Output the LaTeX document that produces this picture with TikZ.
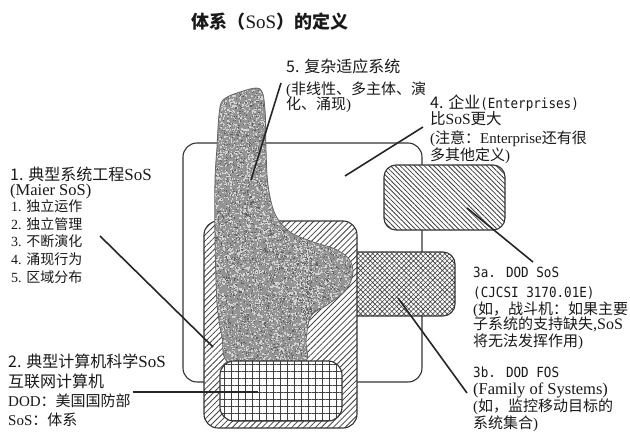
\documentclass[tikz,border=0pt]{standalone}
\usepackage{fontspec}
\setmainfont{Liberation Serif}
\newfontfamily\cjk{Noto Sans CJK SC}
\newfontfamily\monof[FakeStretch=0.9]{DejaVu Sans Mono}
\usetikzlibrary{patterns.meta}
\newcommand{\fs}[1]{\fontsize{#1}{#1}\selectfont}
\tikzset{
  box/.style={draw=black!80, line width=1.1pt},
  conn/.style={draw=black!85, line width=1.6pt},
  txt/.style={anchor=base west, inner sep=0pt, text=black!90},
  t16/.style={txt, font=\fs{16}},
  t15/.style={txt, font=\fs{15}},
  t14/.style={txt, font=\fs{14}},
  tm/.style={txt, font=\monof\fs{14}},
  pcol/.style={pattern color=black!75},
}
\begin{document}
\begin{tikzpicture}[x=1pt,y=-1pt]
\useasboundingbox[fill=white] (0,0) rectangle (630,434);

% title
\node[anchor=center, inner sep=0pt, text=black!90] (title) at (270,22)
  {{\cjk\bfseries\fs{18}体系（}{\fs{19}SoS}{\cjk\bfseries\fs{18}）的定义}};

% 4. enterprise (large box)
\draw[box, fill=white, rounded corners=14pt] (183,143) rectangle (422,382);

% 3a DOD SoS
\draw[box, rounded corners=12pt, preaction={fill=white}, pcol,
  pattern={Lines[angle=-45,distance=3.4pt,line width=0.8pt]}] (384,165) rectangle (505,230);

% 3b DOD FOS
\draw[box, rounded corners=12pt, preaction={fill=white}, pcol,
  pattern={Hatch[angle=45,distance=3.4pt,line width=0.6pt]}] (340,252) rectangle (455,316);

% 1. SoS box
\draw[box, rounded corners=14pt, preaction={fill=white}, pcol,
  pattern={Lines[angle=45,distance=4.2pt,line width=0.8pt]}] (204,221) rectangle (357,428);

% 5. complex adaptive system blob
\def\blob{plot[smooth cycle, tension=0.55] coordinates {
  (223,100) (240,92) (260,89) (265,110) (266,150) (268,185) (275,214)
  (290,232) (313,242) (335,249) (349,259) (353,273) (346,290) (327,305)
  (311,316) (306,340) (305,362) (268,366) (228,362) (222,337) (217,303)
  (215,237) (215,180) (217,147) (219,115)}}
\begin{scope}
  \clip \blob;
  \fill[black!42] (205,80) rectangle (360,372);
  \pgfmathsetseed{11}
  \begin{scope}[fill=black!17]
    \foreach \i in {1,...,4600} {\fill ({212+100*rnd},{86+280*rnd}) rectangle +(1.3,1.3);}
    \foreach \i in {1,...,900} {\fill ({300+56*rnd},{226+96*rnd}) rectangle +(1.3,1.3);}
  \end{scope}
  \begin{scope}[fill=black!62]
    \foreach \i in {1,...,2200} {\fill ({212+100*rnd},{86+280*rnd}) rectangle +(1.1,1.1);}
    \foreach \i in {1,...,420} {\fill ({300+56*rnd},{226+96*rnd}) rectangle +(1.1,1.1);}
  \end{scope}
\end{scope}
\draw[draw=black!60, line width=0.8pt] \blob;

% 2. internet box
\draw[box, rounded corners=14pt, preaction={fill=white}, pcol,
  pattern={Hatch[angle=0,distance=7pt,line width=0.6pt]}] (220,361) rectangle (342,421);

% connector end points
\coordinate (c1s) at (100,236); \coordinate (c1e) at (213,347);
\coordinate (c2s) at (133,392); \coordinate (c2e) at (258,392);
\coordinate (c4s) at (423,127); \coordinate (c4e) at (345,176);
\coordinate (c5s) at (281,83);  \coordinate (c5e) at (251,180);
\coordinate (c3as) at (533,262); \coordinate (c3ae) at (467,208);
\coordinate (c3bs) at (467,393); \coordinate (c3be) at (398,298);
\draw[conn] (c1s) -- (c1e);
\draw[conn] (c2s) -- (c2e);
\draw[conn] (c4s) -- (c4e);
\draw[conn] (c5s) -- (c5e);
\draw[conn] (c3as) -- (c3ae);
\draw[conn] (c3bs) -- (c3be);

% block 1
\node[t16] (b1a) at (10,180) {{\cjk 1. 典型系统工程}{\fs{17}SoS}};
\node[txt, font=\fs{16.5}] (b1b) at (10,195) {(Maier SoS)};
\node[t14] (b1c) at (11,211) {1. {\cjk 独立运作}};
\node[t14] (b1d) at (11,229) {2. {\cjk 独立管理}};
\node[t14] (b1e) at (11,246) {3. {\cjk 不断演化}};
\node[t14] (b1f) at (11,264) {4. {\cjk 涌现行为}};
\node[t14] (b1g) at (11,282) {5. {\cjk 区域分布}};

% block 2
\node[t16] (b2a) at (8,367) {{\cjk 2. 典型计算机科学}{\fs{17}SoS}};
\node[t16] (b2b) at (8,387) {{\cjk 互联网计算机}};
\node[t15] (b2c) at (8,406) {DOD{\cjk ：美国国防部}};
\node[t15] (b2d) at (8,425) {SoS{\cjk ：体系}};

% block 5
\node[t16] (b5a) at (286,72) {{\cjk 5. 复杂适应系统}};
\node[t15] (b5b) at (286,94) {({\cjk 非线性、多主体、演}};
\node[t15] (b5c) at (286,109) {{\cjk 化、涌现})};

% block 4
\node[t16] (b4a) at (430,108) {{\cjk 4. 企业}{\monof\fs{14}(Enterprises)}};
\node[txt, font=\fs{15.5}] (b4b) at (430,124) {{\cjk 比}SoS{\cjk 更大}};
\node[t15] (b4c) at (430,143) {({\cjk 注意：}Enterprise{\cjk 还有很}};
\node[t15] (b4d) at (430,160) {{\cjk 多其他定义})};

% block 3a
\node[tm] (b3a1) at (473,277) {3a. DOD SoS};
\node[tm] (b3a2) at (473,297) {(CJCSI 3170.01E)};
\node[t15] (b3a3) at (473,314) {({\cjk 如，战斗机：如果主要}};
\node[t15] (b3a4) at (473,329) {{\cjk 子系统的支持缺失}{\fs{16},SoS}};
\node[t15] (b3a5) at (473,346) {{\cjk 将无法发挥作用})};

% block 3b
\node[tm] (b3b1) at (473,377) {3b. DOD FOS};
\node[txt, font=\fs{16.5}] (b3b2) at (473,394) {(Family of Systems)};
\node[t15] (b3b3) at (473,411) {({\cjk 如，监控移动目标的}};
\node[t15] (b3b4) at (473,428) {{\cjk 系统集合})};
\end{tikzpicture}
\end{document}
